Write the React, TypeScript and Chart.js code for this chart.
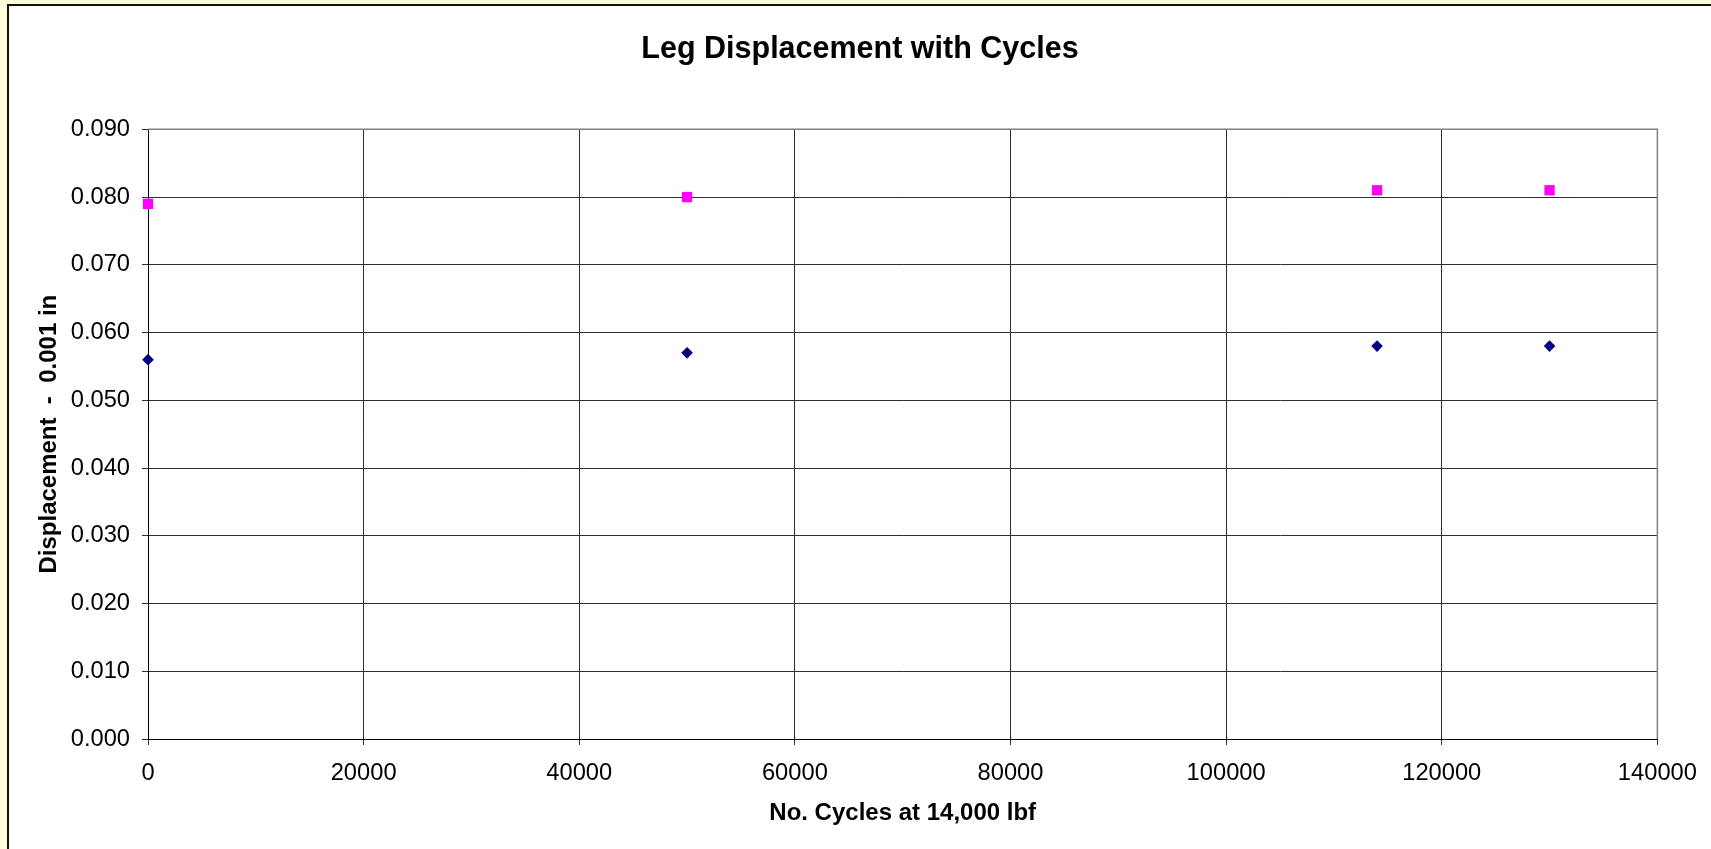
import React, { useEffect, useRef } from 'react';
import { Chart, registerables } from 'chart.js';

Chart.register(...registerables);

// ---- data ----
const cycles = [0, 50000, 114000, 130000];
const lowerSeries = [0.056, 0.057, 0.058, 0.058];
const upperSeries = [0.079, 0.08, 0.081, 0.081];

const xMin = 0;
const xMax = 140000;
const xStep = 20000;
const yMin = 0;
const yMax = 0.09;
const yStep = 0.01;

const chartTitle = 'Leg Displacement with Cycles';
const xTitle = 'No. Cycles at 14,000 lbf';
const yTitle = 'Displacement  -  0.001 in';

const FONT = "'Liberation Sans', Arial, Helvetica, sans-serif";

const plotFrame = {
  id: 'plotFrame',
  beforeDatasetsDraw(chart: any) {
    const { ctx, chartArea } = chart;
    const { top, right, bottom, left } = chartArea;
    ctx.save();
    ctx.strokeStyle = '#808080';
    ctx.lineWidth = 1.5;
    ctx.beginPath();
    ctx.moveTo(left, top);
    ctx.lineTo(right, top);
    ctx.lineTo(right, bottom);
    ctx.stroke();
    ctx.restore();
  },
};

export default function App() {
  const canvasRef = useRef<HTMLCanvasElement | null>(null);

  useEffect(() => {
    if (!canvasRef.current) return;
    Chart.defaults.font.family = FONT;
    const chart = new Chart(canvasRef.current, {
      type: 'scatter',
      data: {
        datasets: [
          {
            label: 'Series 1',
            data: cycles.map((x, i) => ({ x, y: lowerSeries[i] })),
            pointStyle: 'rectRot',
            pointRadius: 5.8,
            pointHoverRadius: 5.8,
            pointBackgroundColor: '#000080',
            pointBorderColor: '#000080',
            pointBorderWidth: 0,
            showLine: false,
            clip: false,
          },
          {
            label: 'Series 2',
            data: cycles.map((x, i) => ({ x, y: upperSeries[i] })),
            pointStyle: 'rect',
            pointRadius: 7.3,
            pointHoverRadius: 7.3,
            pointBackgroundColor: '#FF00FF',
            pointBorderColor: '#FF00FF',
            pointBorderWidth: 0,
            showLine: false,
            clip: false,
          },
        ],
      },
      options: {
        responsive: false,
        animation: false,
        devicePixelRatio: 1,
        layout: { padding: { left: 62, right: 53, top: 0, bottom: 0 } },
        plugins: {
          legend: { display: false },
          tooltip: { enabled: false },
          title: {
            display: true,
            text: chartTitle,
            color: '#000',
            font: { size: 30.5, weight: 'bold', family: FONT },
            padding: { top: 30.9, bottom: 61.8 },
          },
        },
        scales: {
          x: {
            type: 'linear',
            position: 'bottom',
            min: xMin,
            max: xMax,
            ticks: {
              stepSize: xStep,
              color: '#000',
              font: { size: 23.7, family: FONT },
              padding: 14.1,
              maxRotation: 0,
              autoSkip: false,
              callback: (v: any) => String(v),
            },
            grid: { color: '#2e2e2e', lineWidth: 1, tickLength: 6, drawTicks: true },
            border: { color: '#000', width: 1 },
            title: {
              display: true,
              text: xTitle,
              color: '#000',
              font: { size: 24, weight: 'bold', family: FONT },
              padding: { top: 0, bottom: 21.1 },
            },
            afterFit: (s: any) => {
              s.height = 110;
            },
          },
          y: {
            type: 'linear',
            min: yMin,
            max: yMax,
            ticks: {
              stepSize: yStep,
              color: '#000',
              font: { size: 23.7, family: FONT },
              padding: 12,
              autoSkip: false,
              callback: (v: any) => Number(v).toFixed(3),
            },
            grid: { color: '#2e2e2e', lineWidth: 1, tickLength: 6, drawTicks: true },
            border: { color: '#000', width: 1 },
            title: {
              display: true,
              text: yTitle,
              color: '#000',
              font: { size: 24, weight: 'bold', family: FONT },
              padding: { top: -27.4, bottom: 0 },
            },
            afterFit: (s: any) => {
              s.width = 86;
            },
          },
        },
      },
      plugins: [plotFrame],
    } as any);
    return () => chart.destroy();
  }, []);

  return (
    <div
      style={{
        position: 'fixed',
        left: 0,
        top: 0,
        width: '100vw',
        height: '100vh',
        background: '#FFFFDB',
        overflow: 'hidden',
      }}
    >
      <div
        style={{
          position: 'absolute',
          left: 7,
          top: 4,
          width: 1800,
          height: 950,
          border: '2px solid #111',
          background: '#ffffff',
        }}
      />
      <canvas
        ref={canvasRef}
        width={1711}
        height={849}
        style={{ position: 'absolute', left: 0, top: 0, width: 1711, height: 849, display: 'block' }}
      />
    </div>
  );
}
